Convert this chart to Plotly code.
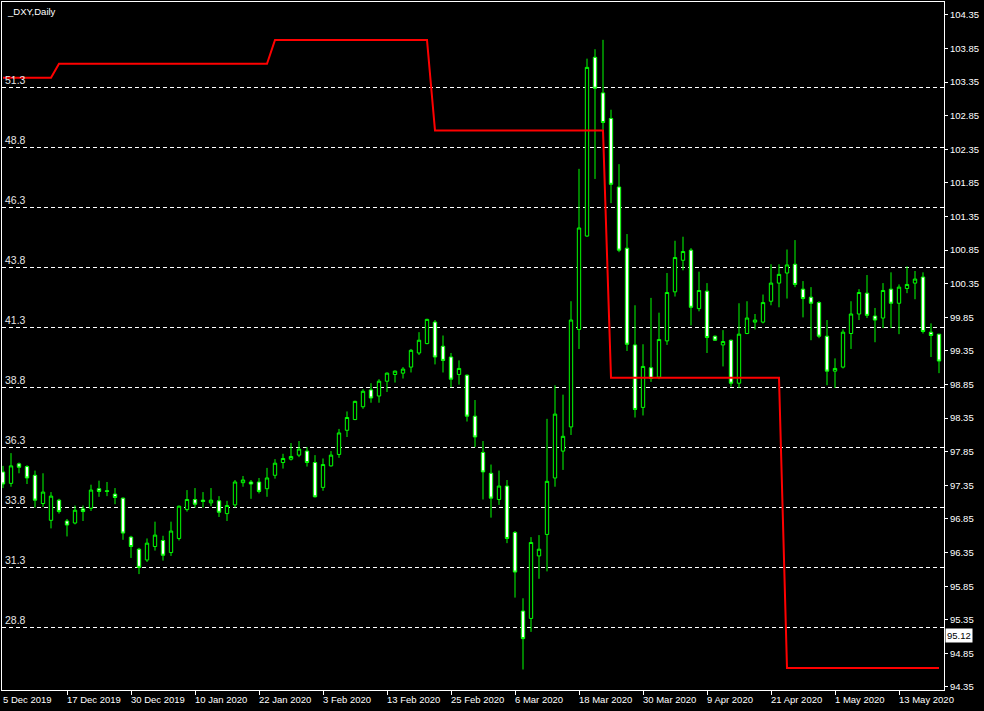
import plotly.graph_objects as go

# ---------------- data ----------------
title_text = "_DXY,Daily"

date_tick_positions = [0, 8, 16, 24, 32, 40, 48, 56, 64, 72, 80, 88, 96, 104, 112]
date_tick_labels = ["5 Dec 2019", "17 Dec 2019", "30 Dec 2019", "10 Jan 2020", "22 Jan 2020",
                    "3 Feb 2020", "13 Feb 2020", "25 Feb 2020", "6 Mar 2020", "18 Mar 2020",
                    "30 Mar 2020", "9 Apr 2020", "21 Apr 2020", "1 May 2020", "13 May 2020"]

price_tick_values = [94.35, 94.85, 95.35, 95.85, 96.35, 96.85, 97.35, 97.85, 98.35, 98.85,
                     99.35, 99.85, 100.35, 100.85, 101.35, 101.85, 102.35, 102.85, 103.35,
                     103.85, 104.35]
price_tick_labels = ["94.35", "94.85", "95.35", "95.85", "96.35", "96.85", "97.35", "97.85",
                     "98.35", "98.85", "99.35", "99.85", "100.35", "100.85", "101.35", "101.85",
                     "102.35", "102.85", "103.35", "103.85", "104.35"]

level_values = [28.8, 31.3, 33.8, 36.3, 38.8, 41.3, 43.8, 46.3, 48.8, 51.3]
level_labels = ["28.8", "31.3", "33.8", "36.3", "38.8", "41.3", "43.8", "46.3", "48.8", "51.3"]

current_price = 95.12

opens = [97.55, 97.38, 97.67, 97.63, 97.50, 97.08, 96.83, 97.13, 96.82, 96.79,
         97.00, 97.01, 97.30, 97.27, 97.22, 97.16, 96.58, 96.40, 96.24, 96.44,
         96.53, 96.35, 96.56, 96.99, 97.14, 97.13, 97.09, 97.12, 96.93, 97.06,
         97.39, 97.40, 97.40, 97.30, 97.50, 97.69, 97.74, 97.80, 97.86, 97.69,
         97.32, 97.64, 97.81, 98.17, 98.33, 98.52, 98.77, 98.68, 98.90, 99.00,
         99.02, 99.11, 99.32, 99.46, 99.78, 99.42, 99.26, 99.00, 98.99, 98.38,
         97.84, 97.53, 97.14, 97.34, 96.65, 95.48, 95.37, 96.30, 96.62, 97.46,
         97.86, 98.22, 99.67, 101.06, 103.72, 103.19, 102.81, 101.79, 100.88, 99.44,
         98.51, 99.10, 98.96, 99.50, 100.23, 100.70, 100.85, 99.98, 100.24, 99.57,
         99.44, 99.51, 98.87, 99.61, 99.78, 99.78, 100.09, 100.36, 100.51, 100.64,
         100.27, 100.15, 100.07, 99.57, 99.05, 99.11, 99.61, 99.90, 100.21, 99.87,
         99.84, 100.27, 100.06, 100.28, 100.36, 100.45, 99.63, 99.60]
highs = [97.64, 97.83, 97.69, 97.65, 97.57, 97.53, 97.25, 97.15, 96.85, 97.05,
         97.05, 97.36, 97.42, 97.40, 97.31, 97.17, 96.60, 96.42, 96.56, 96.81,
         96.60, 96.81, 97.05, 97.28, 97.31, 97.25, 97.31, 97.19, 97.12, 97.43,
         97.49, 97.43, 97.46, 97.61, 97.74, 97.82, 97.98, 98.01, 97.92, 97.80,
         97.75, 97.86, 98.19, 98.45, 98.61, 98.78, 98.87, 98.93, 99.03, 99.06,
         99.11, 99.38, 99.63, 99.83, 99.81, 99.58, 99.32, 99.21, 99.00, 98.62,
         98.01, 97.66, 97.57, 97.43, 96.67, 95.67, 96.58, 96.61, 98.34, 98.84,
         98.70, 100.09, 102.06, 103.70, 103.84, 103.98, 102.94, 102.13, 101.09, 100.03,
         99.45, 100.14, 99.92, 100.51, 100.99, 101.05, 100.88, 100.53, 100.36, 99.58,
         99.66, 99.52, 100.06, 100.09, 99.90, 100.19, 100.64, 100.64, 100.86, 101.00,
         100.39, 100.30, 100.09, 99.81, 99.24, 99.67, 100.09, 100.27, 100.48, 99.99,
         100.36, 100.52, 100.34, 100.61, 100.54, 100.52, 99.76, 99.60]
lows = [97.31, 97.33, 97.53, 97.37, 97.02, 97.03, 96.71, 96.93, 96.59, 96.77,
        96.82, 96.97, 97.18, 97.19, 97.07, 96.54, 96.27, 96.03, 96.21, 96.38,
        96.23, 96.30, 96.53, 96.96, 97.02, 97.02, 97.04, 96.88, 96.82, 97.02,
        97.33, 97.15, 97.23, 97.18, 97.45, 97.60, 97.72, 97.77, 97.63, 97.17,
        97.27, 97.63, 97.76, 98.07, 98.32, 98.49, 98.58, 98.58, 98.74, 98.88,
        98.94, 99.03, 99.29, 99.45, 99.15, 99.03, 98.81, 98.85, 98.30, 97.92,
        97.14, 96.87, 97.06, 96.49, 95.68, 94.61, 95.17, 95.96, 96.07, 97.33,
        97.58, 98.10, 99.38, 101.05, 101.91, 102.64, 101.55, 100.82, 99.35, 98.36,
        98.39, 98.89, 98.93, 99.44, 100.16, 100.55, 99.73, 99.94, 99.32, 99.50,
        99.12, 98.82, 98.80, 99.60, 99.67, 99.76, 100.03, 100.00, 100.13, 100.30,
        99.85, 99.51, 99.54, 98.84, 98.80, 99.09, 99.38, 99.81, 99.84, 99.48,
        99.69, 99.69, 99.60, 100.21, 100.12, 99.61, 99.26, 99.02]
closes = [97.37, 97.64, 97.62, 97.46, 97.13, 97.25, 97.19, 96.96, 96.76, 96.98,
          96.96, 97.28, 97.26, 97.26, 97.17, 96.64, 96.44, 96.13, 96.49, 96.61,
          96.31, 96.67, 97.04, 97.14, 97.07, 97.11, 97.13, 96.95, 97.05, 97.40,
          97.43, 97.37, 97.26, 97.46, 97.68, 97.75, 97.78, 97.89, 97.69, 97.18,
          97.66, 97.80, 98.13, 98.36, 98.60, 98.75, 98.65, 98.90, 99.02, 99.05,
          99.08, 99.36, 99.51, 99.82, 99.26, 99.21, 98.93, 99.09, 98.38, 98.07,
          97.55, 97.16, 97.34, 96.56, 96.06, 95.07, 96.50, 96.40, 97.41, 98.41,
          98.08, 99.81, 101.18, 103.57, 103.26, 102.75, 101.83, 100.85, 99.45, 98.48,
          99.12, 98.94, 99.52, 100.22, 100.74, 100.83, 100.00, 100.25, 99.55, 99.51,
          99.49, 98.87, 99.60, 99.84, 99.81, 100.07, 100.36, 100.49, 100.63, 100.34,
          100.13, 100.06, 99.57, 99.05, 99.09, 99.63, 99.90, 100.22, 99.88, 99.81,
          100.25, 100.06, 100.30, 100.34, 100.42, 99.64, 99.58, 99.20]

# red indicator line (left scale), one value per bar
indicator = ([51.7] * 7 + [52.28] * 27 + [53.27] * 20 + [49.5] * 22 +
             [39.2] * 22 + [27.1] * 20)

# ---------------- figure ----------------
bars = list(range(len(opens)))
FONT = "Liberation Sans"
FS = 9.5

fig = go.Figure()
fig.add_trace(go.Candlestick(
    x=bars, open=opens, high=highs, low=lows, close=closes,
    increasing=dict(line=dict(color="#00ff00", width=1), fillcolor="#000000"),
    decreasing=dict(line=dict(color="#00ff00", width=1), fillcolor="#ffffff"),
    whiskerwidth=0, hoverinfo="skip", yaxis="y"))
fig.add_trace(go.Scatter(
    x=bars, y=indicator, mode="lines", line=dict(color="#ff0000", width=2),
    hoverinfo="skip", yaxis="y2"))

annotations = [dict(text=title_text, xref="paper", yref="paper", x=0, y=1,
                    xanchor="left", yanchor="top", xshift=3, yshift=-2,
                    showarrow=False, font=dict(family=FONT, size=FS, color="#ffffff"))]
for pos, lab in zip(date_tick_positions, date_tick_labels):
    annotations.append(dict(text=lab, xref="x", yref="paper", x=pos, y=0,
                            xanchor="left", yanchor="top", xshift=-2, yshift=-2,
                            showarrow=False, font=dict(family=FONT, size=FS, color="#ffffff")))
annotations.append(dict(text=f"{current_price:.2f}", xref="paper", yref="y", x=1, y=current_price,
                        xanchor="left", yanchor="middle", xshift=1, showarrow=False,
                        bgcolor="#ffffff", borderpad=1,
                        font=dict(family=FONT, size=FS, color="#000000")))

fig.update_layout(
    width=984, height=711,
    paper_bgcolor="#000000", plot_bgcolor="#000000",
    margin=dict(l=2, r=40, t=2, b=21),
    showlegend=False, boxgap=0.4,
    annotations=annotations,
    xaxis=dict(range=[-0.125, 117.625], showgrid=False, zeroline=False,
               showline=True, linecolor="#ffffff", linewidth=1, mirror=True,
               ticks="outside", ticklen=4, tickcolor="#ffffff",
               tickvals=date_tick_positions, showticklabels=False,
               rangeslider=dict(visible=False), fixedrange=True),
    yaxis=dict(side="right", range=[94.305, 104.543], showgrid=False, zeroline=False,
               showline=True, linecolor="#ffffff", linewidth=1, mirror=True,
               ticks="outside", ticklen=3, tickcolor="#ffffff", automargin=False,
               tickvals=price_tick_values, ticktext=price_tick_labels,
               tickfont=dict(family=FONT, size=FS, color="#ffffff"), fixedrange=True),
    yaxis2=dict(overlaying="y", side="left", range=[26.187, 54.854],
                showgrid=True, gridcolor="#ffffff", gridwidth=1, griddash="4px,3px",
                zeroline=False, showline=False, ticks="", automargin=False,
                tickvals=level_values, ticktext=level_labels,
                ticklabelposition="inside top",
                tickfont=dict(family=FONT, size=10.5, color="#e6e6e6"), fixedrange=True),
)

fig.write_html("out.html", config={"displayModeBar": False, "staticPlot": True},
               post_script="document.body.style.margin='0';document.body.style.overflow='hidden';")
